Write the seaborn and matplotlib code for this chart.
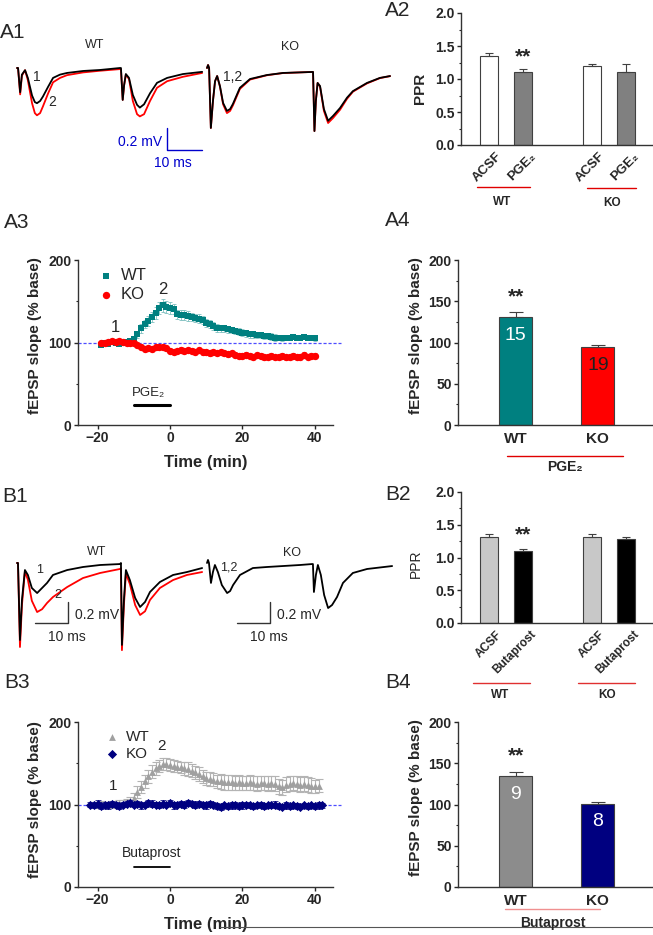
import numpy as np
import pandas as pd
import matplotlib
matplotlib.use('Agg')
import matplotlib.pyplot as plt
import seaborn as sns
from matplotlib.lines import Line2D
from matplotlib.transforms import ScaledTranslation

# ---------------- data ----------------
# A1 example fEPSP traces (ms, mV): 1 = baseline (black), 2 = after PGE2 (red)
a1_wt_t = [0, 0.3, 0.9, 1.4, 2.3, 3.1, 4.3, 5.1, 5.7, 6.6, 7.4, 8.9, 10.3, 12.3, 14.3, 18.9, 23.7, 29.4,
           29.7, 30.2, 30.6, 31.1, 32.0, 33.1, 34.3, 35.1, 36.3, 38.0, 40.0, 42.9, 47.4, 52.9]
a1_wt_1 = [0, 0, -0.22, -0.06, -0.02, -0.09, -0.25, -0.31, -0.32, -0.30, -0.26, -0.17, -0.09, -0.06, -0.045,
           -0.027, -0.018, 0, 0, -0.29, -0.155, -0.055, -0.09, -0.245, -0.335, -0.36, -0.33, -0.23, -0.135,
           -0.09, -0.055, -0.035]
a1_wt_2 = [0, 0, -0.24, -0.07, -0.02, -0.11, -0.32, -0.41, -0.43, -0.41, -0.35, -0.23, -0.13, -0.09, -0.065,
           -0.04, -0.025, -0.01, -0.01, -0.29, -0.16, -0.06, -0.10, -0.30, -0.42, -0.44, -0.42, -0.30, -0.18,
           -0.12, -0.08, -0.045]
a1_ko_t = [0, 0.3, 0.6, 1.1, 1.7, 2.3, 2.9, 3.7, 4.6, 5.7, 6.6, 7.4, 9.4, 12.3, 17.1, 21.7, 30.0,
           30.3, 30.7, 31.1, 31.6, 32.3, 33.4, 34.6, 36.0, 38.0, 40.0, 41.7, 45.7, 49.4, 52.3]
a1_ko_1 = [0, 0.027, 0, -0.545, -0.30, -0.12, -0.073, -0.164, -0.318, -0.39, -0.373, -0.327, -0.18, -0.10,
           -0.064, -0.045, -0.036, -0.036, -0.573, -0.30, -0.136, -0.164, -0.373, -0.48, -0.436, -0.364,
           -0.27, -0.21, -0.136, -0.09, -0.073]
a1_ko_2 = [0, 0.027, 0, -0.545, -0.30, -0.12, -0.073, -0.17, -0.33, -0.41, -0.39, -0.34, -0.19, -0.105,
           -0.066, -0.046, -0.036, -0.036, -0.573, -0.30, -0.136, -0.17, -0.39, -0.50, -0.455, -0.38,
           -0.28, -0.215, -0.14, -0.092, -0.074]

# A2 paired-pulse ratio
ppr_cond = ['ACSF', 'PGE₂', 'ACSF', 'PGE₂']
a2_ppr = [1.35, 1.11, 1.19, 1.10]
a2_sem = [0.045, 0.045, 0.035, 0.13]

# A3 time course (% of baseline)
a3_time = np.arange(-19, 41)
a3_wt = [97, 99, 98, 101, 100, 98, 100, 101, 102, 104,
         110, 117, 122, 126, 131, 136, 142, 145, 143,
         142, 141, 134, 133, 133, 132, 131, 130, 129, 127, 124,
         122, 120, 118, 117, 117, 116, 115, 114, 113, 112,
         111, 110, 110, 109, 109, 108, 108, 107, 106, 106,
         105, 106, 106, 107, 106, 106, 107, 106, 106, 105]
a3_wt_sem = [2, 2, 2, 2, 2, 2, 2, 2, 2, 3,
             4, 5, 5, 6, 6, 7, 7, 8, 7,
             7, 6, 6, 6, 6, 6, 5, 5, 5, 5, 5,
             5, 5, 5, 4, 4, 4, 4, 4, 4, 4,
             4, 4, 4, 4, 4, 4, 4, 4, 4, 3,
             3, 3, 3, 3, 3, 3, 3, 3, 3, 3]
a3_ko = [100, 99, 101, 102, 101, 102, 101, 100, 100, 99,
         97, 94, 92, 93, 92, 94, 95, 94, 93,
         90, 89, 90, 91, 90, 91, 90, 89, 91, 88, 88,
         87, 88, 87, 88, 87, 86, 87, 85, 84, 84,
         85, 84, 83, 85, 84, 82, 83, 84, 82, 83,
         84, 82, 83, 84, 82, 83, 85, 83, 84, 84]
a3_ko_sem = [2, 2, 2, 2, 2, 2, 2, 2, 2, 2,
             2, 2, 2, 2, 2, 2, 2, 2, 2,
             3, 3, 2, 3, 3, 2, 3, 3, 2, 3, 3,
             3, 3, 2, 3, 3, 3, 2, 3, 3, 3,
             3, 3, 3, 2, 3, 3, 3, 3, 2, 3,
             3, 3, 3, 3, 2, 3, 3, 3, 3, 3]

# A4 summary
geno = ['WT', 'KO']
a4_slope = [131, 94]
a4_sem = [6, 2.5]
a4_n = ['15', '19']

# B1 example traces (ms, mV): 1 = baseline (black), 2 = after Butaprost (red)
b1_wt_t = [0, 0.3, 0.9, 1.5, 2.4, 3.3, 4.5, 6.1, 7.6, 9.1, 10.9, 15.2, 20, 25.2, 31.2,
           31.5, 31.8, 32.4, 33.0, 34.2, 35.8, 37.3, 38.8, 40.3, 43.3, 47.3, 51.5, 56.1]
b1_wt_1 = [0, 0, -0.733, -0.352, -0.067, -0.114, -0.238, -0.286, -0.238, -0.19, -0.114, -0.067, -0.038,
           -0.019, -0.01, 0, -0.78, -0.352, -0.067, -0.162, -0.333, -0.419, -0.371, -0.276, -0.181,
           -0.114, -0.086, -0.048]
b1_wt_2 = [0, 0, -0.80, -0.40, -0.08, -0.16, -0.36, -0.467, -0.44, -0.381, -0.324, -0.229, -0.143,
           -0.095, -0.057, -0.05, -0.83, -0.40, -0.10, -0.20, -0.40, -0.495, -0.46, -0.352, -0.238,
           -0.162, -0.114, -0.086]
b1_ko_t = [0, 0.3, 0.6, 1.2, 1.8, 2.4, 3.3, 4.5, 6.1, 7.0, 7.9, 10, 13.9, 18.2, 28.2, 31.8,
           32.1, 32.4, 33.0, 33.6, 34.5, 35.5, 36.7, 37.9, 39.4, 41.2, 44.2, 48.5, 56.1]
b1_ko_12 = [0, 0.029, 0, -0.19, -0.086, -0.019, -0.086, -0.21, -0.286, -0.267, -0.21, -0.114, -0.048,
            -0.038, -0.019, -0.01, -0.01, -0.276, -0.114, -0.019, -0.114, -0.305, -0.429, -0.40, -0.324,
            -0.19, -0.095, -0.057, -0.029]

# B2 paired-pulse ratio
ppr_cond_b = ['ACSF', 'Butaprost', 'ACSF', 'Butaprost']
b2_ppr = [1.31, 1.10, 1.32, 1.29]
b2_sem = [0.045, 0.025, 0.045, 0.03]

# B3 time course
b3_wt_time = np.arange(-21, 42)
b3_wt = [100, 99, 101, 100, 99, 101, 100, 102, 101, 103, 104,
         108, 115, 121, 128, 134, 140, 144, 147, 149, 149,
         148, 147, 146, 145, 144, 143, 141, 139, 137, 134, 132,
         131, 130, 128, 128, 127, 127, 127, 126, 127, 126,
         126, 127, 126, 125, 126, 126, 125, 126, 125, 122,
         121, 124, 125, 126, 125, 124, 125, 124, 123, 122, 123]
b3_wt_sem = [3, 3, 3, 3, 3, 3, 3, 3, 4, 4, 5,
             6, 7, 7, 8, 8, 8, 8, 7, 7, 7,
             7, 7, 7, 7, 8, 8, 8, 8, 8, 8, 8,
             8, 8, 8, 9, 9, 9, 9, 9, 9, 9,
             9, 9, 9, 9, 9, 9, 9, 9, 9, 9,
             9, 9, 9, 9, 9, 9, 9, 9, 9, 8, 8]
b3_ko_time = np.arange(-22, 43)
b3_ko = [100, 99, 101, 98, 100, 99, 101, 100, 98, 100,
         101, 102, 100, 101, 99, 100, 102, 101, 100, 99,
         101, 100, 102, 99, 100, 101, 100, 102, 101, 100,
         101, 100, 99, 101, 100, 98, 97, 99, 98, 99,
         100, 98, 99, 100, 99, 98, 99, 100, 98, 99,
         99, 100, 98, 97, 99, 98, 99, 98, 97, 99,
         98, 99, 98, 99, 99]
b3_ko_sem = [3, 3, 4, 3, 3, 4, 3, 3, 4, 3,
             3, 4, 3, 3, 4, 3, 3, 4, 3, 3,
             4, 3, 3, 4, 3, 3, 4, 3, 3, 4,
             3, 3, 4, 3, 3, 4, 4, 3, 3, 4,
             3, 3, 4, 3, 3, 4, 3, 3, 4, 3,
             3, 4, 3, 3, 4, 3, 3, 4, 3, 3,
             4, 3, 3, 4, 3]

# B4 summary
b4_slope = [134.5, 101]
b4_sem = [4.5, 2]
b4_n = ['9', '8']

# ---------------- style ----------------
sns.set_style('ticks')
plt.rcParams['font.family'] = ['Liberation Sans', 'DejaVu Sans']
plt.rcParams['font.weight'] = 'bold'
plt.rcParams['axes.linewidth'] = 1.0
plt.rcParams['axes.edgecolor'] = '#333333'

W, H = 653, 935
fig = plt.figure(figsize=(W / 100, H / 100), dpi=100)


def px_axes(x0, y0, x1, y1):
    return fig.add_axes([x0 / W, 1 - y1 / H, (x1 - x0) / W, (y1 - y0) / H])


def ftext(x, y, s, **kw):
    kw.setdefault('ha', 'center')
    kw.setdefault('va', 'center')
    fig.text(x / W, 1 - y / H, s, **kw)


def fline(xs, ys, **kw):
    fig.add_artist(Line2D([x / W for x in xs], [1 - y / H for y in ys],
                          transform=fig.transFigure, **kw))


def style_axes(ax):
    sns.despine(ax=ax)
    ax.tick_params(axis='both', which='major', labelsize=10, length=3, width=1, pad=1.5)
    ax.tick_params(axis='both', which='minor', length=1.8, width=0.8)


def ppr_panel(ax, means, sems, colors, labels, ylab_weight, lab_size):
    df = pd.DataFrame({'slot': ['s0', 's1', 's3', 's4'], 'ppr': means})
    sns.barplot(data=df, x='slot', y='ppr', hue='slot', order=['s0', 's1', 's2', 's3', 's4'],
                palette=dict(zip(df['slot'], colors)), saturation=1, width=0.53, edgecolor='#404040',
                linewidth=0.8, legend=False, errorbar=None, ax=ax)
    ax.errorbar([0, 1, 3, 4], means, yerr=[[0, 0, 0, 0], sems], fmt='none', ecolor='#404040',
                elinewidth=0.8, capsize=3, capthick=0.8)
    ax.set_xlim(-0.82, 4.79)
    ax.set_ylim(0, 2.0)
    ax.set_yticks([0, 0.5, 1.0, 1.5, 2.0])
    ax.set_yticks([0.25, 0.75, 1.25, 1.75], minor=True)
    ax.set_yticklabels(['0.0', '0.5', '1.0', '1.5', '2.0'])
    style_axes(ax)
    ax.set_xticks([0, 1, 3, 4])
    ax.set_xticklabels(labels, rotation=45, ha='right', rotation_mode='anchor', fontsize=lab_size)
    ax.tick_params(axis='x', length=0, pad=4)
    off = ScaledTranslation(7 / 100, 0, fig.dpi_scale_trans)
    for lab in ax.get_xticklabels():
        lab.set_transform(lab.get_transform() + off)
    ax.set_xlabel('')
    ax.set_ylabel('PPR', fontsize=11 if ylab_weight == 'bold' else 10, fontweight=ylab_weight)


def slope_panel(ax, means, sems, colors, ns, n_colors):
    df = pd.DataFrame({'geno': geno, 'slope': means})
    sns.barplot(data=df, x='geno', y='slope', hue='geno', palette=dict(zip(geno, colors)),
                saturation=1, width=0.4, edgecolor='#404040', linewidth=0.8, legend=False,
                errorbar=None, ax=ax)
    ax.errorbar([0, 1], means, yerr=[[0, 0], sems], fmt='none', ecolor='#404040',
                elinewidth=0.8, capsize=5, capthick=0.8)
    ax.set_xlim(-0.70, 1.67)
    ax.set_ylim(0, 200)
    ax.set_yticks([0, 50, 100, 150, 200])
    ax.set_yticks([25, 75, 125, 175], minor=True)
    style_axes(ax)
    ax.tick_params(axis='x', length=0, pad=5, labelsize=11)
    ax.set_xlabel('')
    ax.set_ylabel('fEPSP slope (% base)', fontsize=11, fontweight='bold')
    ax.yaxis.set_label_coords(-0.179, 0.54)
    ax.text(0, means[0] + 24, '**', ha='center', va='center', fontsize=15, fontweight='bold')
    for i, (n, c) in enumerate(zip(ns, n_colors)):
        ax.text(i, means[i] - 22, n, ha='center', va='center', fontsize=14,
                fontweight='normal', color=c)


def time_panel(ax):
    ax.set_xlim(-25.4, 45)
    ax.set_ylim(0, 200)
    ax.axhline(100, xmin=0, xmax=1.03, color='#4d4dff', lw=0.9, ls=(0, (2.5, 1.5)),
               clip_on=False, zorder=1)
    ax.set_xticks([-20, 0, 20, 40])
    ax.set_yticks([0, 100, 200])
    ax.set_yticks([50, 150], minor=True)
    style_axes(ax)
    ax.set_xlabel('Time (min)', fontsize=12, fontweight='bold')
    ax.set_ylabel('fEPSP slope (% base)', fontsize=11, fontweight='bold')
    ax.xaxis.set_label_coords(0.5, -0.18)
    ax.yaxis.set_label_coords(-0.141, 0.54)


# ---------------- A1 traces ----------------
ax = px_axes(0, 40, 400, 170)
ax.set_xlim(-17 / 3.5, 383 / 3.5)
ax.set_ylim(-102 / 110, 28 / 110)
ax.axis('off')
ko_off_a = 190 / 3.5
sns.lineplot(x=a1_wt_t, y=a1_wt_2, color='red', lw=1.3, ax=ax, sort=False)
sns.lineplot(x=a1_wt_t, y=a1_wt_1, color='black', lw=1.3, ax=ax, sort=False)
sns.lineplot(x=np.array(a1_ko_t) + ko_off_a, y=a1_ko_2, color='red', lw=1.3, ax=ax, sort=False)
sns.lineplot(x=np.array(a1_ko_t) + ko_off_a, y=a1_ko_1, color='black', lw=1.3, ax=ax, sort=False)
# blue scale bar: 10 ms / 0.2 mV
ax.plot([42.86, 42.86, 52.86], [-0.545, -0.745, -0.745], color='#0000cc', lw=1.0)
ax.text(41.4, -0.67, '0.2 mV', color='#0000cc', ha='right', va='center', fontsize=10, fontweight='normal')
ax.text(44.6, -0.86, '10 ms', color='#0000cc', ha='center', va='center', fontsize=10, fontweight='normal')
ftext(13, 32, 'A1', fontsize=15, fontweight='normal')
ftext(95, 45, 'WT', fontsize=9, fontweight='normal')
ftext(290, 47, 'KO', fontsize=9, fontweight='normal')
ftext(37, 77, '1', fontsize=10, fontweight='normal')
ftext(52, 102, '2', fontsize=10, fontweight='normal')
ftext(233, 77, '1,2', fontsize=10, fontweight='normal')

# ---------------- A2 PPR ----------------
ax = px_axes(461, 13, 653, 145)
ppr_panel(ax, a2_ppr, a2_sem, ['white', '#808080', 'white', '#808080'], ppr_cond, 'bold', 9.5)
ax.yaxis.set_label_coords(-0.177, 0.43)
ax.text(1, 1.33, '**', ha='center', va='center', fontsize=15, fontweight='bold')
ftext(385, 10, 'A2', fontsize=15, fontweight='normal', ha='left')
fline([477, 530], [187, 187], color='#e00000', lw=1.0)
fline([587, 636], [188, 188], color='#e00000', lw=1.0)
ftext(502, 202, 'WT', fontsize=8.5)
ftext(612, 203, 'KO', fontsize=8.5)

# ---------------- A3 time course ----------------
ax = px_axes(78, 260, 333, 425)
time_panel(ax)
ax.errorbar(a3_time, a3_wt, yerr=a3_wt_sem, fmt='none', ecolor='#7fc0c0', elinewidth=0.6,
            capsize=1.5, capthick=0.6, zorder=2)
sns.scatterplot(x=a3_time, y=a3_wt, marker='s', color='#008080', s=24, linewidth=0,
                label='WT', ax=ax, zorder=3)
ax.errorbar(a3_time, a3_ko, yerr=a3_ko_sem, fmt='none', ecolor='#ff8080', elinewidth=0.6,
            capsize=1.5, capthick=0.6, zorder=4)
sns.scatterplot(x=a3_time, y=a3_ko, marker='o', color='#ff0000', s=28, linewidth=0,
                label='KO', ax=ax, zorder=5)
ax.legend(loc='upper left', bbox_to_anchor=(0.05, 0.99), frameon=False, handlelength=1.0,
          handletextpad=0.4, borderaxespad=0, labelspacing=0.25,
          prop={'size': 12, 'weight': 'normal'})
ax.plot([-10, 0], [24, 24], color='black', lw=2.2)
ax.text(-10.5, 39, 'PGE₂', ha='left', va='center', fontsize=9.5, fontweight='normal')
ax.text(-15.2, 118, '1', ha='center', va='center', fontsize=12, fontweight='normal')
ax.text(-2, 164, '2', ha='center', va='center', fontsize=12, fontweight='normal')
ftext(4, 222, 'A3', fontsize=15, fontweight='normal', ha='left')

# ---------------- A4 summary ----------------
ax = px_axes(458, 260, 653, 425)
slope_panel(ax, a4_slope, a4_sem, ['#008080', '#ff0000'], a4_n, ['white', '#202020'])
ftext(385, 220, 'A4', fontsize=15, fontweight='normal', ha='left')
fline([507, 623], [456, 456], color='#e00000', lw=1.0)
ftext(565, 467, 'PGE₂', fontsize=10)

# ---------------- B1 traces ----------------
ax = px_axes(0, 540, 400, 660)
ax.set_xlim(-17 / 3.3, 383 / 3.3)
ax.set_ylim(-97 / 105, 23 / 105)
ax.axis('off')
ko_off_b = 190 / 3.3
sns.lineplot(x=b1_wt_t, y=b1_wt_2, color='red', lw=1.3, ax=ax, sort=False)
sns.lineplot(x=b1_wt_t, y=b1_wt_1, color='black', lw=1.3, ax=ax, sort=False)
sns.lineplot(x=np.array(b1_ko_t) + ko_off_b, y=b1_ko_12, color='black', lw=1.3, ax=ax, sort=False)
# scale bars: 10 ms / 0.2 mV
for xe in (15.45, 76.7):
    ax.plot([xe - 10, xe, xe], [-0.571, -0.571, -0.371], color='#333333', lw=1.0)
    ax.text(xe + 2.1, -0.495, '0.2 mV', ha='left', va='center', fontsize=10, fontweight='normal')
    ax.text(xe - 0.3, -0.705, '10 ms', ha='center', va='center', fontsize=10, fontweight='normal')
ftext(2, 496, 'B1', fontsize=15, fontweight='normal', ha='left')
ftext(97, 552, 'WT', fontsize=9, fontweight='normal')
ftext(292, 553, 'KO', fontsize=9, fontweight='normal')
ftext(40, 570, '1', fontsize=9, fontweight='normal')
ftext(58, 595, '2', fontsize=9, fontweight='normal')
ftext(229, 567, '1,2', fontsize=9, fontweight='normal')

# ---------------- B2 PPR ----------------
ax = px_axes(461, 492, 653, 623)
ppr_panel(ax, b2_ppr, b2_sem, ['#c8c8c8', '#000000', '#c8c8c8', '#000000'], ppr_cond_b, 'normal', 8.5)
ax.yaxis.set_label_coords(-0.198, 0.454)
ax.text(1, 1.34, '**', ha='center', va='center', fontsize=15, fontweight='bold')
ftext(385, 495, 'B2', fontsize=15, fontweight='normal', ha='left')
fline([473, 530], [683, 683], color='#e03030', lw=1.0)
fline([578, 635], [683, 683], color='#e03030', lw=1.0)
ftext(500, 695, 'WT', fontsize=8.5)
ftext(607, 695, 'KO', fontsize=8.5)

# ---------------- B3 time course ----------------
ax = px_axes(78, 722, 333, 887)
time_panel(ax)
ax.yaxis.set_label_coords(-0.141, 0.527)
ax.errorbar(b3_wt_time, b3_wt, yerr=b3_wt_sem, fmt='none', ecolor='#b4b4b4', elinewidth=0.8,
            capsize=3, capthick=0.8, zorder=2)
sns.scatterplot(x=b3_wt_time, y=b3_wt, marker='^', color='#a0a0a0', s=24, linewidth=0,
                label='WT', ax=ax, zorder=3)
ax.errorbar(b3_ko_time, b3_ko, yerr=b3_ko_sem, fmt='none', ecolor='#3a3a9a', elinewidth=0.7,
            capsize=2, capthick=0.7, zorder=4)
sns.scatterplot(x=b3_ko_time, y=b3_ko, marker='D', color='#000080', s=22, linewidth=0,
                label='KO', ax=ax, zorder=5)
ax.legend(loc='upper left', bbox_to_anchor=(0.08, 0.99), frameon=False, handlelength=1.0,
          handletextpad=0.4, borderaxespad=0, labelspacing=0.2,
          prop={'size': 11, 'weight': 'normal'})
ax.plot([-10, 0], [24, 24], color='black', lw=1.3)
ax.text(-5.1, 41, 'Butaprost', ha='center', va='center', fontsize=10, fontweight='normal')
ax.text(-15.7, 122, '1', ha='center', va='center', fontsize=11, fontweight='normal')
ax.text(-2.3, 171, '2', ha='center', va='center', fontsize=11, fontweight='normal')
ftext(4, 682, 'B3', fontsize=15, fontweight='normal', ha='left')

# ---------------- B4 summary ----------------
ax = px_axes(458, 722, 653, 887)
slope_panel(ax, b4_slope, b4_sem, ['#8c8c8c', '#000080'], b4_n, ['white', 'white'])
ftext(385, 682, 'B4', fontsize=15, fontweight='normal', ha='left')
fline([505, 600], [909, 909], color='#f09090', lw=1.0)
ftext(553, 923, 'Butaprost', fontsize=10)
fline([220, 653], [927, 927], color='#555555', lw=0.8)

fig.savefig('out.png', dpi=100)
